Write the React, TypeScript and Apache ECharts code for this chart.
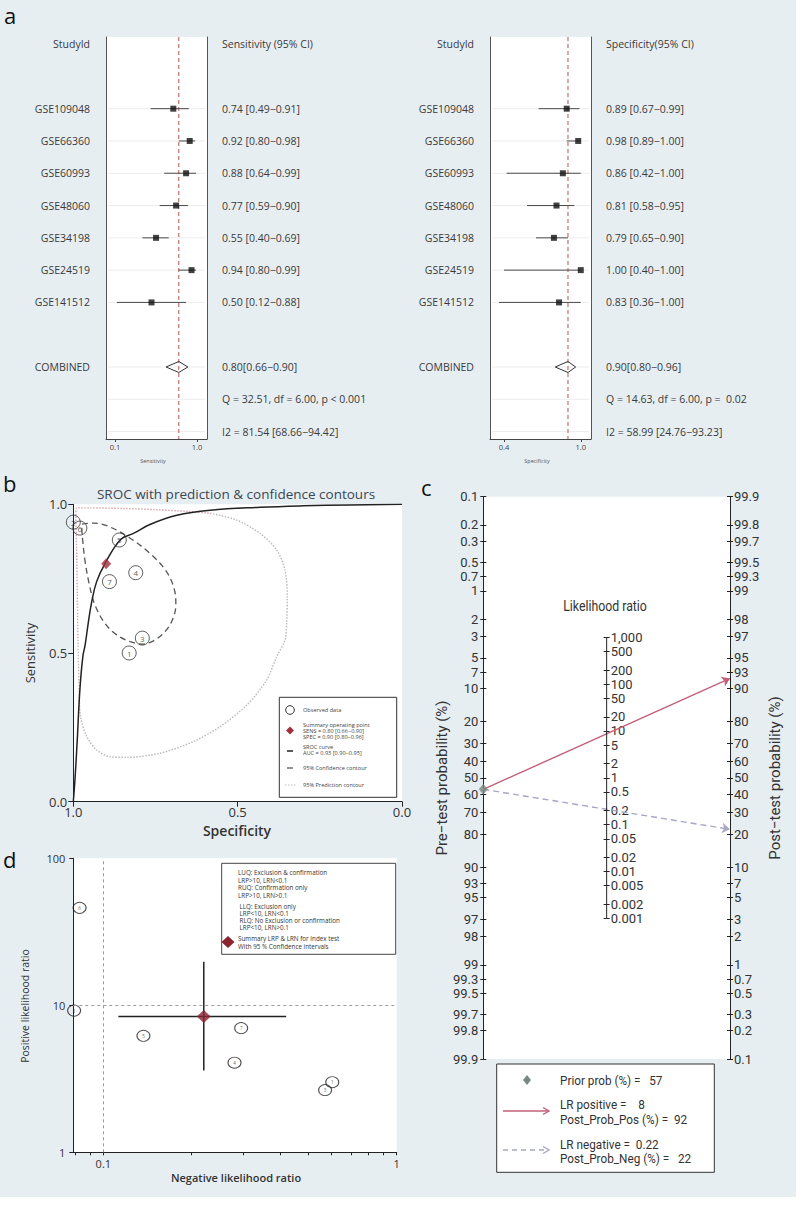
import React, { useEffect, useRef } from 'react';
import * as echarts from 'echarts';

// ---------------- Data ----------------
const studies = ['GSE109048', 'GSE66360', 'GSE60993', 'GSE48060', 'GSE34198', 'GSE24519', 'GSE141512'];
const studyNo = [7, 6, 5, 4, 3, 2, 1];
const sens = [0.74, 0.92, 0.88, 0.77, 0.55, 0.94, 0.5];
const sensLo = [0.49, 0.8, 0.64, 0.59, 0.4, 0.8, 0.12];
const sensHi = [0.91, 0.98, 0.99, 0.9, 0.69, 0.99, 0.88];
const spec = [0.89, 0.98, 0.86, 0.81, 0.79, 1.0, 0.83];
const specLo = [0.67, 0.89, 0.42, 0.58, 0.65, 0.4, 0.36];
const specHi = [0.99, 1.0, 1.0, 0.95, 0.9, 1.0, 1.0];
const sensCombined = [0.8, 0.66, 0.9];
const specCombined = [0.9, 0.8, 0.96];
const sensStats = ['Q = 32.51, df = 6.00, p < 0.001', 'I2 = 81.54 [68.66\u221294.42]'];
const specStats = ['Q = 14.63, df = 6.00, p =  0.02', 'I2 = 58.99 [24.76\u221293.23]'];
const sensXTicks = [0.1, 1.0];
const specXTicks = [0.4, 1.0];

// SROC curve (specificity, sensitivity)
const srocSpec = [1.0, 0.995, 0.988, 0.98, 0.971, 0.964, 0.954, 0.944, 0.929, 0.904, 0.856, 0.817, 0.767, 0.685, 0.584, 0.432, 0.3, 0.158, 0.0];
const srocSens = [0.0, 0.073, 0.207, 0.376, 0.488, 0.527, 0.605, 0.672, 0.74, 0.8, 0.882, 0.902, 0.932, 0.963, 0.98, 0.99, 0.995, 0.998, 1.0];
const confSpec = [0.974, 0.939, 0.898, 0.838, 0.767, 0.716, 0.691, 0.688, 0.701, 0.726, 0.761, 0.792, 0.827, 0.868, 0.904, 0.934, 0.951, 0.964, 0.971, 0.974, 0.974];
const confSens = [0.933, 0.937, 0.928, 0.894, 0.835, 0.773, 0.706, 0.661, 0.605, 0.566, 0.538, 0.53, 0.538, 0.561, 0.6, 0.661, 0.729, 0.807, 0.874, 0.919, 0.933];
const predTopSpec = [0.986, 0.988, 0.99, 0.992, 0.99, 0.95, 0.85, 0.75, 0.65, 0.584];
const predTopSens = [0.55, 0.7, 0.85, 0.96, 0.988, 0.988, 0.986, 0.982, 0.976, 0.97];
const predRestSpec = [0.584, 0.503, 0.432, 0.381, 0.356, 0.349, 0.351, 0.356, 0.381, 0.412, 0.472, 0.554, 0.635, 0.736, 0.838, 0.888, 0.929, 0.959, 0.978, 0.982, 0.986];
const predRestSens = [0.97, 0.947, 0.902, 0.846, 0.779, 0.689, 0.6, 0.544, 0.488, 0.409, 0.325, 0.252, 0.202, 0.163, 0.149, 0.151, 0.174, 0.219, 0.286, 0.376, 0.55];
const aucValues = [0.93, 0.9, 0.95];

// Fagan nomogram
const priorProb = 57;
const lrPositive = 8;
const postProbPos = 92;
const lrNegative = 0.22;
const postProbNeg = 22;
const probTicks = [0.1, 0.2, 0.3, 0.5, 0.7, 1, 2, 3, 5, 7, 10, 20, 30, 40, 50, 60, 70, 80, 90, 93, 95, 97, 98, 99, 99.3, 99.5, 99.7, 99.8, 99.9];
const lrTicks = [0.001, 0.002, 0.005, 0.01, 0.02, 0.05, 0.1, 0.2, 0.5, 1, 2, 5, 10, 20, 50, 100, 200, 500, 1000];

// Likelihood ratio scattergram (same study order as above)
const lrnStudy = [0.295, 0.083, 0.137, 0.28, 0.57, 0.0795, 0.603];
const lrpStudy = [7.0, 46, 6.2, 4.07, 2.65, 9.2, 3.0];
const lrnSummary = 0.22;
const lrpSummary = 8.4;
const lrnSummaryCI = [0.1125, 0.42];
const lrpSummaryCI = [3.6, 19.8];
const lrnAxisMin = 0.079;
const lrnTicks = [0.08, 0.09, 0.1, 0.2, 0.3, 0.4, 0.5, 0.6, 0.7, 0.8, 0.9, 1];
const lrnLabelTicks = [0.1, 1];
const lrpLabelTicks = [1, 10, 100];
const lrnThreshold = 0.1;
const lrpThreshold = 10;
const quadrantNotes = [
  'LUQ: Exclusion & confirmation', 'LRP>10, LRN<0.1', 'RUQ: Confirmation only', 'LRP>10, LRN>0.1',
  'LLQ: Exclusion only', 'LRP<10, LRN<0.1', 'RLQ: No Exclusion or confirmation', 'LRP<10, LRN>0.1',
];

// ---------------- Helpers ----------------
const SANS = "'Open Sans', 'Noto Sans', sans-serif";
const COND = "Roboto, 'Liberation Sans', sans-serif";
const MINUS = '\u2212';
const f2 = (v: number) => v.toFixed(2);
const logit = (p: number) => Math.log(p / (1 - p));
const nearest = (vals: number[], labels: string[], v: number) => {
  let bi = 0;
  for (let i = 1; i < vals.length; i++) if (Math.abs(vals[i] - v) < Math.abs(vals[bi] - v)) bi = i;
  return labels[bi];
};
const T = (x: number, y: number, text: string, fontSize: number, o: any = {}) => ({
  type: 'text', x, y, z: 100, rotation: o.rotation || 0, scaleX: o.scaleX || 1,
  style: {
    text, fontSize, fontFamily: o.font || SANS, fontWeight: o.weight || 'normal', fill: o.color || '#333',
    textAlign: o.align || 'left', textVerticalAlign: o.valign || 'middle',
  },
});

const ROW_MIN = -0.22;
const ROW_MAX = 12.23;
const studyRows = studies.map((_, i) => i + 2);
const combinedRow = 10;

function forestParts(gi: number, xi: number, ylIdx: number, est: number[], lo: number[], hi: number[], comb: number[], header: string, stats: string[], xMin: number, xMax: number, xTicks: number[]) {
  const leftVals = [0, ...studyRows, combinedRow];
  const leftLabels = ['StudyId', ...studies, 'COMBINED'];
  const rightVals = [0, ...studyRows, combinedRow, 11, 12];
  const rightLabels = [header, ...est.map((e, i) => `${f2(e)} [${f2(lo[i])}${MINUS}${f2(hi[i])}]`), `${f2(comb[0])}[${f2(comb[1])}${MINUS}${f2(comb[2])}]`, stats[0], stats[1]];
  const labelStyle = { fontSize: 10.5, color: '#3a3a3a', fontFamily: SANS };
  const xAxis = {
    gridIndex: gi, type: 'value', min: xMin, max: xMax,
    axisLine: { show: true, onZero: false, lineStyle: { color: '#444' } },
    axisTick: { show: true, customValues: xTicks, length: 3, lineStyle: { color: '#444' } },
    axisLabel: { customValues: xTicks, formatter: (v: number) => v.toFixed(1), fontSize: 7.5, color: '#444', margin: 4, fontFamily: SANS, showMinLabel: true, showMaxLabel: true },
    splitLine: { show: false },
  };
  const yAxes = [
    {
      gridIndex: gi, type: 'value', position: 'left', min: ROW_MIN, max: ROW_MAX, inverse: true,
      axisLine: { show: true, onZero: false, lineStyle: { color: '#555' } }, axisTick: { show: false },
      axisLabel: { customValues: leftVals, formatter: (v: number) => nearest(leftVals, leftLabels, v), margin: 16, showMinLabel: true, showMaxLabel: true, ...labelStyle },
      splitLine: { show: false },
    },
    {
      gridIndex: gi, type: 'value', position: 'right', min: ROW_MIN, max: ROW_MAX, inverse: true,
      axisLine: { show: true, onZero: false, lineStyle: { color: '#555' } }, axisTick: { show: false },
      axisLabel: { customValues: rightVals, formatter: (v: number) => nearest(rightVals, rightLabels, v), margin: 15, showMinLabel: true, showMaxLabel: true, ...labelStyle },
      splitLine: { show: false },
    },
  ];
  const rowLineRows = [...studyRows, combinedRow, 11, 12];
  const series = [
    {
      type: 'custom', xAxisIndex: xi, yAxisIndex: ylIdx, silent: true,
      data: rowLineRows.map((r) => [comb[0], r]), encode: { x: 0, y: 1 },
      renderItem: (params: any, api: any) => {
        const cs = params.coordSys;
        const y = api.coord([api.value(0), api.value(1)])[1];
        return { type: 'line', shape: { x1: cs.x + 2, y1: y, x2: cs.x + cs.width - 2, y2: y }, style: { stroke: '#ececec', lineWidth: 1 } };
      },
    },
    {
      type: 'line', xAxisIndex: xi, yAxisIndex: ylIdx, symbol: 'none', silent: true, z: 2,
      lineStyle: { type: [4, 3], color: '#b5554f', width: 1 },
      data: [[comb[0], ROW_MIN], [comb[0], ROW_MAX]],
    },
    {
      type: 'custom', xAxisIndex: xi, yAxisIndex: ylIdx, silent: true, z: 3,
      data: lo.map((l, i) => [l, hi[i], studyRows[i]]), encode: { x: [0, 1], y: 2 },
      renderItem: (_p: any, api: any) => {
        const a = api.coord([api.value(0), api.value(2)]);
        const b = api.coord([api.value(1), api.value(2)]);
        return { type: 'line', shape: { x1: a[0], y1: a[1], x2: b[0], y2: b[1] }, style: { stroke: '#4a4a4a', lineWidth: 1 } };
      },
    },
    {
      type: 'custom', xAxisIndex: xi, yAxisIndex: ylIdx, silent: true, z: 3,
      data: [[comb[1], comb[0], comb[2], combinedRow]], encode: { x: [0, 1, 2], y: 3 },
      renderItem: (_p: any, api: any) => {
        const l = api.coord([api.value(0), api.value(3)]);
        const m = api.coord([api.value(1), api.value(3)]);
        const h = api.coord([api.value(2), api.value(3)]);
        return {
          type: 'polygon',
          shape: { points: [[l[0], l[1]], [m[0], m[1] - 5.5], [h[0], h[1]], [m[0], m[1] + 5.5]] },
          style: { fill: 'rgba(0,0,0,0)', stroke: '#333', lineWidth: 1 },
        };
      },
    },
    {
      type: 'scatter', xAxisIndex: xi, yAxisIndex: ylIdx, symbol: 'rect', symbolSize: 6, silent: true, z: 4,
      itemStyle: { color: '#111' },
      data: est.map((e, i) => [e, studyRows[i]]),
    },
  ];
  return { xAxis, yAxes, series };
}

function buildOption() {
  const fs = forestParts(0, 0, 0, sens, sensLo, sensHi, sensCombined, 'Sensitivity (95% CI)', sensStats, 0, 1.11, sensXTicks);
  const fp = forestParts(1, 1, 2, spec, specLo, specHi, specCombined, 'Specificity(95% CI)', specStats, 0.29, 1.08, specXTicks);

  const L = Math.log(999) + 1e-6;
  const probLogits = probTicks.map((p) => logit(p / 100));
  const probLabels = probTicks.map((p) => String(p));
  const lrLogs = lrTicks.map((v) => Math.log(v));
  const lrLabels = lrTicks.map((v) => (v >= 1000 ? v.toLocaleString('en-US') : String(v)));
  const nomoLabel = { fontSize: 13, color: '#333', fontFamily: COND, showMinLabel: true, showMaxLabel: true, hideOverlap: false };
  const tickStyle = { color: '#222', width: 1 };

  const lrnLogTicks = lrnTicks.map((v) => Math.log10(v));
  const lrnLogLabels = lrnLabelTicks.map((v) => Math.log10(v));
  const lrpLogLabels = lrpLabelTicks.map((v) => Math.log10(v));

  const xAxis: any[] = [
    fs.xAxis,
    fp.xAxis,
    {
      gridIndex: 2, type: 'value', min: 0, max: 1, interval: 0.5, inverse: true,
      axisLine: { onZero: false, lineStyle: { color: '#222' } }, axisTick: { length: 5, lineStyle: { color: '#222' } },
      axisLabel: { formatter: (v: number) => v.toFixed(1), fontSize: 13, color: '#333', margin: 4, fontFamily: SANS, showMinLabel: true, showMaxLabel: true },
      splitLine: { show: false },
    },
    { gridIndex: 3, type: 'value', min: 0, max: 1, show: false },
    {
      gridIndex: 4, type: 'value', min: Math.log10(lrnAxisMin), max: 0,
      axisLine: { onZero: false, lineStyle: { color: '#222' } },
      axisTick: { customValues: lrnLogTicks, length: 3, lineStyle: { color: '#222' } },
      axisLabel: { customValues: lrnLogLabels, formatter: (v: number) => nearest(lrnLogLabels, lrnLabelTicks.map(String), v), fontSize: 11, color: '#333', margin: 6, fontFamily: SANS, showMinLabel: true, showMaxLabel: true },
      splitLine: { show: false },
    },
  ];

  const yAxis: any[] = [
    ...fs.yAxes, // 0,1
    ...fp.yAxes, // 2,3
    { // 4 SROC
      gridIndex: 2, type: 'value', min: 0, max: 1, interval: 0.5,
      axisLine: { onZero: false, lineStyle: { color: '#222' } }, axisTick: { length: 5, lineStyle: { color: '#222' } },
      axisLabel: { formatter: (v: number) => v.toFixed(1), fontSize: 13, color: '#333', margin: 6, fontFamily: SANS, showMinLabel: true, showMaxLabel: true },
      splitLine: { show: false },
    },
    { // 5 pre-test
      gridIndex: 3, type: 'value', position: 'left', min: -L, max: L, inverse: true,
      axisLine: { onZero: false, lineStyle: tickStyle },
      axisTick: { customValues: probLogits, length: 3, lineStyle: tickStyle },
      axisLabel: { customValues: probLogits, formatter: (v: number) => nearest(probLogits, probLabels, v), margin: 5, ...nomoLabel },
      splitLine: { show: false },
    },
    { // 6 pre-test inner ticks
      gridIndex: 3, type: 'value', position: 'left', min: -L, max: L, inverse: true,
      axisLine: { show: false, onZero: false }, axisLabel: { show: false },
      axisTick: { inside: true, customValues: probLogits, length: 3, lineStyle: tickStyle }, splitLine: { show: false },
    },
    { // 7 post-test
      gridIndex: 3, type: 'value', position: 'right', min: -L, max: L,
      axisLine: { onZero: false, lineStyle: tickStyle },
      axisTick: { customValues: probLogits, length: 3, lineStyle: tickStyle },
      axisLabel: { customValues: probLogits, formatter: (v: number) => nearest(probLogits, probLabels, v), margin: 4, ...nomoLabel },
      splitLine: { show: false },
    },
    { // 8 post-test inner ticks
      gridIndex: 3, type: 'value', position: 'right', min: -L, max: L,
      axisLine: { show: false, onZero: false }, axisLabel: { show: false },
      axisTick: { inside: true, customValues: probLogits, length: 3, lineStyle: tickStyle }, splitLine: { show: false },
    },
    { // 9 likelihood ratio (middle)
      gridIndex: 3, type: 'value', position: 'right', offset: -123.35, min: -2 * L, max: 2 * L,
      axisLine: { show: false, onZero: false },
      axisTick: { customValues: lrLogs, length: 3, lineStyle: tickStyle },
      axisLabel: { customValues: lrLogs, formatter: (v: number) => nearest(lrLogs, lrLabels, v), margin: 4, ...nomoLabel },
      splitLine: { show: false },
    },
    { // 10 middle inner ticks
      gridIndex: 3, type: 'value', position: 'right', offset: -123.35, min: -2 * L, max: 2 * L,
      axisLine: { show: false, onZero: false }, axisLabel: { show: false },
      axisTick: { inside: true, customValues: lrLogs, length: 3, lineStyle: tickStyle }, splitLine: { show: false },
    },
    { // 11 LR scatter y
      gridIndex: 4, type: 'value', min: 0, max: 2,
      axisLine: { onZero: false, lineStyle: { color: '#222' } },
      axisTick: { customValues: lrpLogLabels, length: 4, lineStyle: { color: '#222' } },
      axisLabel: { customValues: lrpLogLabels, formatter: (v: number) => nearest(lrpLogLabels, lrpLabelTicks.map(String), v), fontSize: 11, color: '#333', margin: 8, fontFamily: SANS, showMinLabel: true, showMaxLabel: true },
      splitLine: { show: false },
    },
  ];

  const zip = (a: number[], b: number[]) => a.map((v, i) => [v, b[i]]);
  const preY = -logit(priorProb / 100);

  const series: any[] = [
    ...fs.series,
    ...fp.series,
    // SROC panel
    {
      type: 'line', xAxisIndex: 2, yAxisIndex: 4, data: zip(predRestSpec, predRestSens), smooth: 0.3, symbol: 'none', silent: true,
      lineStyle: { type: [1.5, 1.5], color: '#b9b9b9', width: 1.4 },
    },
    {
      type: 'line', xAxisIndex: 2, yAxisIndex: 4, data: zip(predTopSpec, predTopSens), smooth: 0.3, symbol: 'none', silent: true,
      lineStyle: { type: [1.5, 1.5], color: '#d9a2aa', width: 1.4 },
    },
    {
      type: 'line', xAxisIndex: 2, yAxisIndex: 4, data: zip(confSpec, confSens), smooth: 0.35, symbol: 'none', silent: true,
      lineStyle: { type: [6, 4], color: '#555', width: 1.3 },
    },
    {
      type: 'line', xAxisIndex: 2, yAxisIndex: 4, data: zip(srocSpec, srocSens), smooth: 0.4, symbol: 'none', silent: true,
      lineStyle: { color: '#222', width: 1.5 },
    },
    {
      type: 'scatter', xAxisIndex: 2, yAxisIndex: 4, symbol: 'circle', symbolSize: 14, silent: true, z: 4,
      itemStyle: { color: 'rgba(0,0,0,0)', borderColor: '#333', borderWidth: 1 },
      label: { show: true, position: 'inside', formatter: (p: any) => String(p.data[2]), fontSize: 8, color: '#333', fontFamily: SANS },
      data: spec.map((s, i) => [s, sens[i], studyNo[i]]),
    },
    {
      type: 'scatter', xAxisIndex: 2, yAxisIndex: 4, symbol: 'diamond', symbolSize: [10, 11], silent: true, z: 5,
      itemStyle: { color: '#a3303f' }, data: [[specCombined[0], sensCombined[0]]],
    },
    // Fagan nomogram
    {
      type: 'line', xAxisIndex: 3, yAxisIndex: 9, symbol: 'none', silent: true,
      lineStyle: { color: '#222', width: 1 },
      data: [[0.5, Math.log(lrTicks[0])], [0.5, Math.log(lrTicks[lrTicks.length - 1])]],
    },
    {
      type: 'lines', coordinateSystem: 'cartesian2d', xAxisIndex: 3, yAxisIndex: 7, silent: true,
      symbol: ['none', 'arrow'], symbolSize: 8,
      lineStyle: { color: '#c45f79', width: 1.4, opacity: 1 },
      data: [{ coords: [[0, preY], [1, logit(postProbPos / 100)]] }],
    },
    {
      type: 'lines', coordinateSystem: 'cartesian2d', xAxisIndex: 3, yAxisIndex: 7, silent: true,
      symbol: ['none', 'arrow'], symbolSize: 8,
      lineStyle: { color: '#a7a7c6', width: 1.4, opacity: 1, type: [6, 4] },
      data: [{ coords: [[0, preY], [1, logit(postProbNeg / 100)]] }],
    },
    {
      type: 'scatter', xAxisIndex: 3, yAxisIndex: 7, symbol: 'diamond', symbolSize: [9, 11], silent: true, z: 5,
      itemStyle: { color: '#7b887f' }, data: [[0, preY]],
    },
    // LR scattergram
    {
      type: 'scatter', xAxisIndex: 4, yAxisIndex: 11, symbol: 'circle', symbolSize: [13, 11], silent: true,
      itemStyle: { color: 'rgba(0,0,0,0)', borderColor: '#222', borderWidth: 1 },
      label: { show: true, position: 'inside', formatter: (p: any) => String(p.data[2]), fontSize: 4.5, color: '#333', fontFamily: SANS },
      data: lrnStudy.map((v, i) => [Math.log10(v), Math.log10(lrpStudy[i]), studyNo[i]]),
      markLine: {
        silent: true, symbol: ['none', 'none'], label: { show: false },
        lineStyle: { type: [3, 3], color: '#9a9a9a', width: 1 },
        data: [{ xAxis: Math.log10(lrnThreshold) }, { yAxis: Math.log10(lrpThreshold) }],
      },
    },
    {
      type: 'line', xAxisIndex: 4, yAxisIndex: 11, symbol: 'none', silent: true, lineStyle: { color: '#222', width: 1.5 },
      data: [[Math.log10(lrnSummaryCI[0]), Math.log10(lrpSummary)], [Math.log10(lrnSummaryCI[1]), Math.log10(lrpSummary)]],
    },
    {
      type: 'line', xAxisIndex: 4, yAxisIndex: 11, symbol: 'none', silent: true, lineStyle: { color: '#222', width: 1.5 },
      data: [[Math.log10(lrnSummary), Math.log10(lrpSummaryCI[0])], [Math.log10(lrnSummary), Math.log10(lrpSummaryCI[1])]],
    },
    {
      type: 'scatter', xAxisIndex: 4, yAxisIndex: 11, symbol: 'diamond', symbolSize: [14, 13], silent: true, z: 5,
      itemStyle: { color: '#8b2430' }, data: [[Math.log10(lrnSummary), Math.log10(lrpSummary)]],
    },
  ];

  const grids = [
    { left: 106, top: 37, width: 101, height: 402 },
    { left: 490, top: 37, width: 101, height: 402 },
    { left: 73.3, top: 504.3, width: 328.7, height: 297.4 },
    { left: 483.3, top: 496.7, width: 246.7, height: 562.3 },
    { left: 73.3, top: 858.3, width: 323.4, height: 294 },
  ].map((g) => ({ ...g, show: true, backgroundColor: '#ffffff', borderWidth: 0, containLabel: false, outerBoundsMode: 'none' }));

  // graphic (titles, legends, panel letters)
  const g: any[] = [];
  g.push(T(4, 15, 'a', 22, { color: '#111' }));
  g.push(T(3, 483, 'b', 22, { color: '#111' }));
  g.push(T(421, 487, 'c', 22, { color: '#111' }));
  g.push(T(3, 859, 'd', 22, { color: '#111' }));
  g.push(T(153, 461, 'Sensitivity', 5.5, { align: 'center', color: '#555' }));
  g.push(T(537, 461, 'Specificity', 5.5, { align: 'center', color: '#555' }));
  // SROC
  g.push(T(236, 494, 'SROC with prediction & confidence contours', 13.5, { align: 'center', color: '#3b4652' }));
  g.push(T(30, 653, 'Sensitivity', 13, { align: 'center', rotation: Math.PI / 2 }));
  g.push(T(237, 830, 'Specificity', 14, { align: 'center', weight: 600 }));
  // SROC legend
  g.push({ type: 'rect', z: 100, shape: { x: 279.3, y: 697.3, width: 117.4, height: 100 }, style: { fill: '#fff', stroke: '#333', lineWidth: 1 } });
  g.push({ type: 'circle', z: 101, shape: { cx: 290, cy: 710, r: 4.3 }, style: { fill: 'none', stroke: '#333', lineWidth: 1 } });
  g.push({ type: 'polygon', z: 101, shape: { points: [[290, 726.5], [294, 730.5], [290, 734.5], [286, 730.5]] }, style: { fill: '#a3303f' } });
  g.push({ type: 'line', z: 101, shape: { x1: 287, y1: 751, x2: 293, y2: 751 }, style: { stroke: '#222', lineWidth: 1.5 } });
  g.push({ type: 'line', z: 101, shape: { x1: 287, y1: 768, x2: 293, y2: 768 }, style: { stroke: '#555', lineWidth: 1.3 } });
  g.push({ type: 'line', z: 101, shape: { x1: 285, y1: 785, x2: 296, y2: 785 }, style: { stroke: '#c0c0c0', lineWidth: 1.2, lineDash: [1.5, 1.5] } });
  const lg = { color: '#444' };
  g.push(T(303, 710, 'Observed data', 5.6, lg));
  g.push(T(303, 724.5, 'Summary operating point', 5.6, lg));
  g.push(T(303, 730.5, `SENS = ${f2(sensCombined[0])} [${f2(sensCombined[1])}${MINUS}${f2(sensCombined[2])}]`, 5.6, lg));
  g.push(T(303, 736.5, `SPEC = ${f2(specCombined[0])} [${f2(specCombined[1])}${MINUS}${f2(specCombined[2])}]`, 5.6, lg));
  g.push(T(303, 747.3, 'SROC curve', 5.6, lg));
  g.push(T(303, 753.3, `AUC = ${f2(aucValues[0])} [${f2(aucValues[1])}${MINUS}${f2(aucValues[2])}]`, 5.6, lg));
  g.push(T(303, 768.3, '95% Confidence contour', 5.6, lg));
  g.push(T(303, 785, '95% Prediction contour', 5.6, lg));
  // Nomogram
  g.push(T(442, 778, 'Pre\u2212test probability (%)', 15, { align: 'center', rotation: Math.PI / 2, font: COND }));
  g.push(T(775, 778, 'Post\u2212test probability (%)', 15, { align: 'center', rotation: Math.PI / 2, font: COND }));
  g.push(T(605, 606, 'Likelihood ratio', 14.5, { align: 'center', font: COND, scaleX: 0.85 }));
  g.push({ type: 'rect', z: 100, shape: { x: 496.7, y: 1064, width: 217.6, height: 108.3 }, style: { fill: '#fff', stroke: '#333', lineWidth: 1 } });
  g.push({ type: 'polygon', z: 101, shape: { points: [[527, 1075], [531, 1080], [527, 1085], [523, 1080]] }, style: { fill: '#7b887f' } });
  g.push({ type: 'line', z: 101, shape: { x1: 503, y1: 1111, x2: 548, y2: 1111 }, style: { stroke: '#c45f79', lineWidth: 1.4 } });
  g.push({ type: 'polyline', z: 101, shape: { points: [[543, 1107.5], [549, 1111], [543, 1114.5]] }, style: { stroke: '#c45f79', lineWidth: 1.4, fill: 'none' } });
  g.push({ type: 'line', z: 101, shape: { x1: 503, y1: 1150, x2: 548, y2: 1150 }, style: { stroke: '#a7a7c6', lineWidth: 1.4, lineDash: [5, 4] } });
  g.push({ type: 'polyline', z: 101, shape: { points: [[543, 1146.5], [549, 1150], [543, 1153.5]] }, style: { stroke: '#a7a7c6', lineWidth: 1.4, fill: 'none' } });
  const lc = { font: COND, color: '#333', scaleX: 0.87 };
  g.push(T(560, 1080, `Prior prob (%) =   ${priorProb}`, 13.5, lc));
  g.push(T(560, 1104, `LR positive =    ${lrPositive}`, 13.5, lc));
  g.push(T(560, 1119, `Post_Prob_Pos (%) =  ${postProbPos}`, 13.5, lc));
  g.push(T(560, 1144, `LR negative =  ${lrNegative}`, 13.5, lc));
  g.push(T(560, 1158.5, `Post_Prob_Neg (%) =   ${postProbNeg}`, 13.5, lc));
  // LR scattergram
  g.push(T(25, 1006, 'Positive likelihood ratio', 10.5, { align: 'center', rotation: Math.PI / 2 }));
  g.push(T(236, 1177, 'Negative likelihood ratio', 11, { align: 'center', weight: 600 }));
  g.push({ type: 'rect', z: 100, shape: { x: 221.7, y: 863.3, width: 174, height: 91 }, style: { fill: '#fff', stroke: '#444', lineWidth: 1 } });
  const noteY = [872.7, 880, 887.7, 895, 906, 913, 920, 927.7];
  quadrantNotes.forEach((t, i) => g.push(T(i < 4 ? 238 : 239.5, noteY[i], t, 6.3, { color: '#333' })));
  g.push({ type: 'polygon', z: 101, shape: { points: [[228, 936], [234.5, 942], [228, 948], [221.5, 942]] }, style: { fill: '#8b2430' } });
  g.push(T(238, 938.7, 'Summary LRP & LRN for Index test', 6.3, { color: '#333' }));
  g.push(T(238, 946, 'With 95 % Confidence intervals', 6.3, { color: '#333' }));

  return {
    animation: false,
    backgroundColor: '#e7eef2',
    textStyle: { fontFamily: SANS },
    grid: grids,
    xAxis,
    yAxis,
    series,
    graphic: { elements: g },
  };
}

export default function App() {
  const ref = useRef<HTMLDivElement>(null);
  useEffect(() => {
    document.body.style.margin = '0';
    const chart = echarts.init(ref.current as HTMLDivElement, null, { renderer: 'svg' });
    chart.setOption(buildOption() as any);
    return () => chart.dispose();
  }, []);
  return <div ref={ref} style={{ width: 796, height: 1197 }} />;
}
